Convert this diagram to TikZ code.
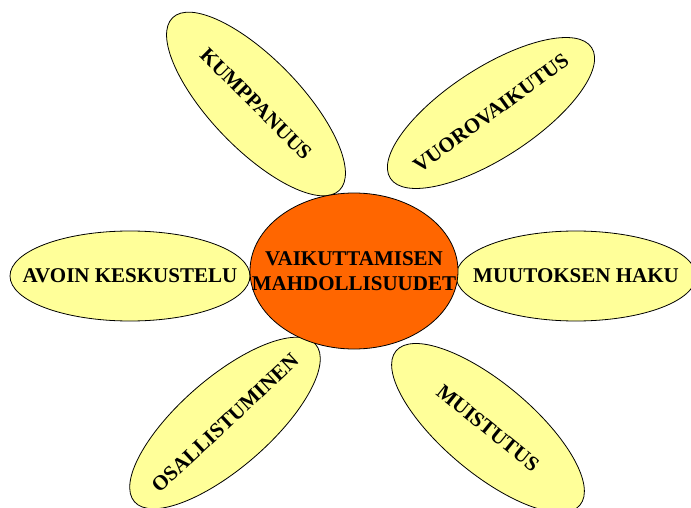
\documentclass[tikz,border=0pt]{standalone}
\usepackage{fontspec}
\setmainfont{Liberation Serif}
\usetikzlibrary{shapes.geometric}
\definecolor{petalyellow}{RGB}{255,255,153}
\definecolor{coreorange}{RGB}{255,102,0}

\begin{document}
\begin{tikzpicture}[x=1pt,y=-1pt,line width=0.8pt,
  petal/.style={ellipse,draw=black,fill=petalyellow,minimum width=240pt,minimum height=90pt,inner sep=0pt},
  word/.style={font=\fontsize{21}{25}\selectfont\bfseries,inner sep=0pt,align=center}]
\useasboundingbox (0,0) rectangle (691,508);
\node[petal,rotate=-46] (kump) at (256,104) {};
\node[word,rotate=-45] (kumplabel) at (kump) {KUMPPANUUS};
\node[petal,rotate=33] (vuoro) at (491,113) {};
\node[word,rotate=36] (vuorolabel) at (vuoro) {VUOROVAIKUTUS};
\node[petal] (avoin) at (130,276) {};
\node[word] (avoinlabel) at (avoin) {AVOIN KESKUSTELU};
\node[petal] (muutos) at (576,276) {};
\node[word] (muutoslabel) at (muutos) {MUUTOKSEN HAKU};
\node[petal,rotate=41] (osall) at (225,423) {};
\node[word,rotate=43] (osalllabel) at (osall) {OSALLISTUMINEN};
\node[petal,rotate=-40] (muist) at (488,428) {};
\node[word,rotate=-39] (muistlabel) at (muist) {MUISTUTUS};
\node[ellipse,draw=black,fill=coreorange,minimum width=208pt,minimum height=156pt,inner sep=0pt] (core) at (354,271) {};
\node[word] (corelabel) at (core) {VAIKUTTAMISEN\\MAHDOLLISUUDET};
\end{tikzpicture}
\end{document}
